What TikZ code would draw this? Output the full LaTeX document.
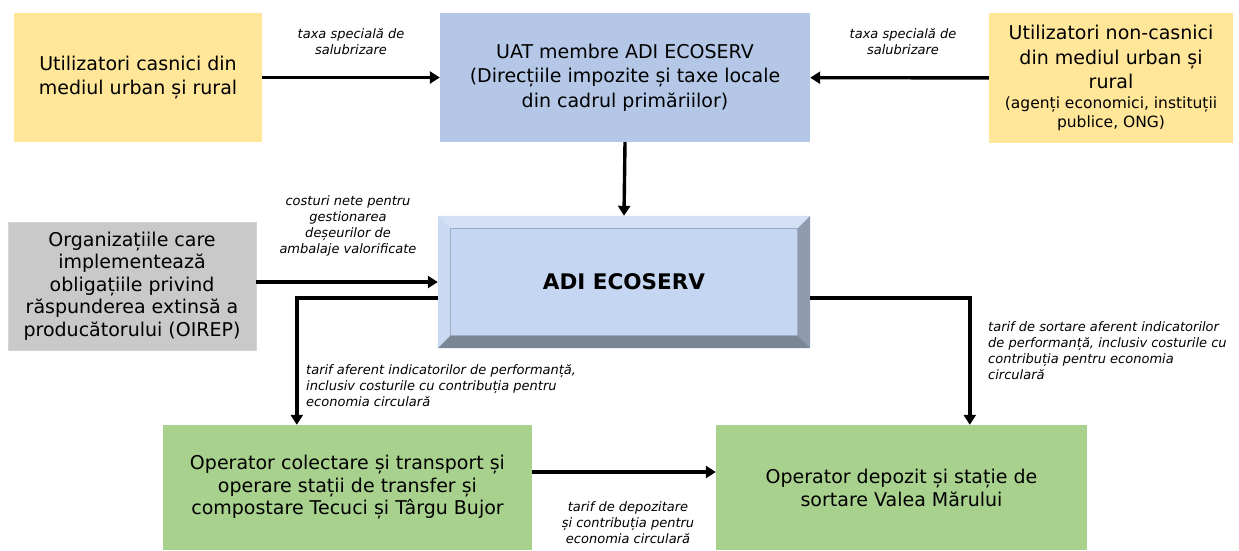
\documentclass[tikz,border=0pt]{standalone}
\usepackage{fontspec}
\setmainfont{DejaVu Sans}
\usetikzlibrary{arrows.meta}
\definecolor{galben}{HTML}{FFE699}
\definecolor{albastru}{HTML}{B4C7E7}
\definecolor{gri}{HTML}{C9C9C9}
\definecolor{verde}{HTML}{A9D18E}
\definecolor{fata}{HTML}{C5D6F2}
\tikzset{
  caseta/.style={draw=none, align=center, inner sep=0pt, font=\fontsize{19}{24.5}\selectfont},
  eticheta/.style={font=\itshape\fontsize{13}{16}\selectfont, inner sep=0pt},
  sageata/.style={line width=3.4pt, -{Triangle[length=10pt,width=12pt]}},
}
\begin{document}
\begin{tikzpicture}[x=1pt,y=-1pt]
\useasboundingbox (0,0) rectangle (1239,550);

% casetele de sus
\node[caseta, fill=galben, minimum width=248, minimum height=129] (casnici) at (138,77.5)
  {Utilizatori casnici din\\mediul urban și rural};
\node[caseta, fill=albastru, minimum width=370, minimum height=129] (uat) at (625,77.5)
  {UAT membre ADI ECOSERV\\(Direcțiile impozite și taxe locale\\din cadrul primăriilor)};
\node[caseta, fill=galben, minimum width=244, minimum height=130] (noncasnici) at (1111,78)
  {Utilizatori non-casnici\\din mediul urban și\\rural\\[-5pt]{\fontsize{15.5}{19}\selectfont (agenți economici, instituții}\\[-5pt]{\fontsize{15.5}{19}\selectfont publice, ONG)}};

% OIREP si ADI
\node[caseta, fill=gri, draw=gri!80!white, minimum width=248, minimum height=128, font=\fontsize{19}{22.5}\selectfont] (oirep) at (132,286)
  {Organizațiile care\\implementează\\obligațiile privind\\răspunderea extinsă a\\producătorului (OIREP)};
\node[minimum width=372, minimum height=132, inner sep=0pt] (adi) at (624,282) {};
\fill[fata] (adi.north west) rectangle (adi.south east);
\fill[fata!75!white] (adi.north west) -- (adi.north east) -- ++(-13,13) -- ([shift={(13,13)}]adi.north west) -- cycle;
\fill[fata!90!white] (adi.north west) -- (adi.south west) -- ++(13,-13) -- ([shift={(13,13)}]adi.north west) -- cycle;
\fill[fata!72!black] (adi.north east) -- (adi.south east) -- ++(-13,-13) -- ([shift={(-13,13)}]adi.north east) -- cycle;
\fill[fata!62!black] (adi.south west) -- (adi.south east) -- ++(-13,-13) -- ([shift={(13,-13)}]adi.south west) -- cycle;
\draw[fata!80!black, line width=0.8pt] ([shift={(13,13)}]adi.north west) rectangle ([shift={(-13,-13)}]adi.south east);
\node[font=\bfseries\fontsize{21.5}{24}\selectfont] at (adi) {ADI ECOSERV};

% operatorii
\node[caseta, fill=verde, minimum width=369, minimum height=125, font=\fontsize{19}{22.5}\selectfont] (colectare) at (347.5,487.5)
  {Operator colectare și transport și\\operare stații de transfer și\\compostare Tecuci și Târgu Bujor};
\node[caseta, fill=verde, minimum width=371, minimum height=125, font=\fontsize{19}{23}\selectfont] (depozit) at (901.5,487.5)
  {Operator depozit și stație de\\sortare Valea Mărului};

% sagetile
\draw[sageata] (casnici.east |- uat.west) -- (uat.west);
\draw[sageata] (noncasnici) -- (uat);
\draw[sageata] (uat.south) -- (adi.north);
\draw[sageata] (oirep.east |- adi.west) -- (adi.west);
\draw[sageata] ([yshift=-16pt]adi.west) -| ([xshift=134pt]colectare.north west);
\draw[sageata] ([yshift=-16pt]adi.east) -| ([xshift=254pt]depozit.north west);
\draw[sageata] ([yshift=15.5pt]colectare.east) -- ([yshift=15.5pt]depozit.west);

% etichetele
\node[eticheta, align=center] (l1) at (351,42) {taxa specială de\\salubrizare};
\node[eticheta, align=center] (l2) at (903,42) {taxa specială de\\salubrizare};
\node[eticheta, align=center] (l3) at (348,226) {costuri nete pentru\\gestionarea\\deșeurilor de\\ambalaje valorificate};
\node[eticheta, align=left, anchor=north west] (l4) at (306,364) {tarif aferent indicatorilor de performanță,\\inclusiv costurile cu contribuția pentru\\economia circulară};
\node[eticheta, align=left, anchor=north west] (l5) at (988,321) {tarif de sortare aferent indicatorilor\\de performanță, inclusiv costurile cu\\contribuția pentru economia\\circulară};
\node[eticheta, align=center] (l6) at (628,523) {tarif de depozitare\\și contribuția pentru\\economia circulară};
\end{tikzpicture}
\end{document}
